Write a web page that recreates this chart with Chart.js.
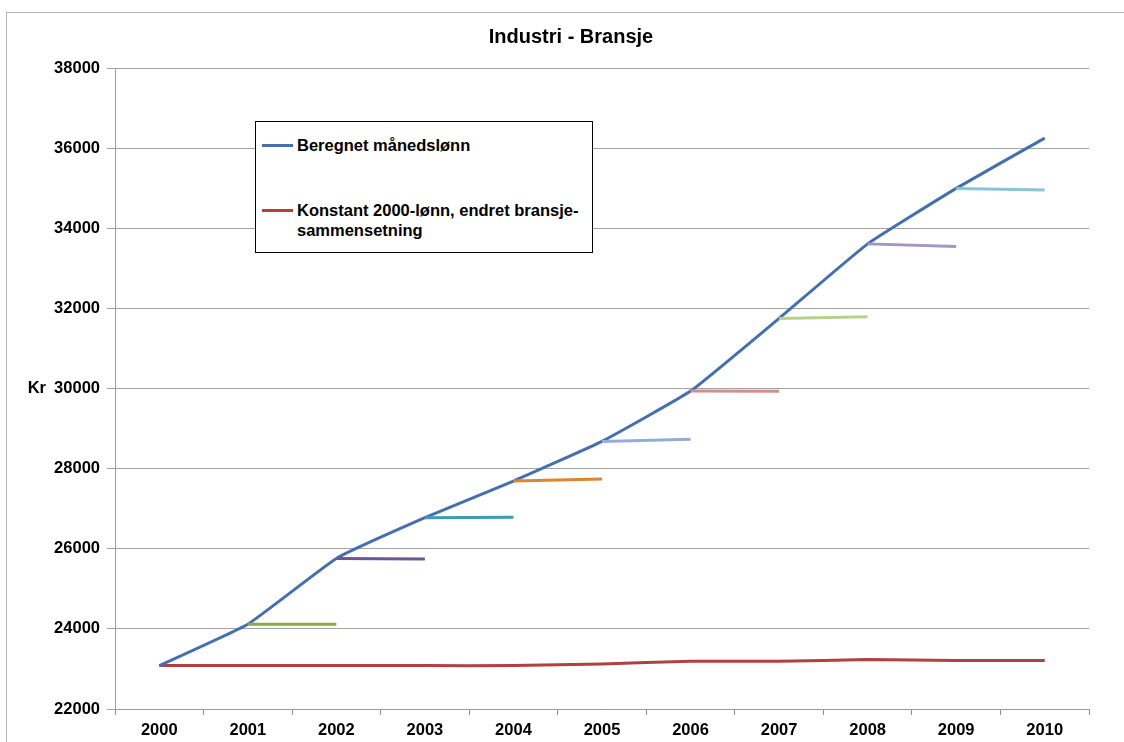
<!DOCTYPE html>
<html>
<head>
<meta charset="utf-8">
<script src="https://cdn.jsdelivr.net/npm/chart.js@4.4.1/dist/chart.umd.min.js"></script>
<style>
  html, body { margin: 0; padding: 0; background: #fff; overflow: hidden; }
  #frame { position: absolute; left: 6px; top: 12px; width: 1400px; height: 900px;
           border-left: 1px solid #b4b4b4; border-top: 1px solid #b4b4b4; }
  #wrap { position: absolute; left: 0; top: 0; }
  #legend { position: absolute; left: 255px; top: 121px; width: 336px; height: 130px;
            border: 1px solid #000; background: #fff;
            font: bold 16.5px "Liberation Sans", Arial, sans-serif; color: #000; }
  .item { position: absolute; left: 0; }
  .swatch { position: absolute; left: 6px; width: 31px; height: 3px; }
  .txt { position: absolute; left: 41px; white-space: nowrap; line-height: 20px; }
</style>
</head>
<body>
<div id="frame"></div>
<div id="wrap"><canvas id="chart" width="1140" height="742"></canvas></div>
<div id="legend"></div>
<script>
// Industri - Bransje
var years = ["2000", "2001", "2002", "2003", "2004", "2005", "2006", "2007", "2008", "2009", "2010"];
var manedslonn = [23083, 24117, 25758, 26775, 27690, 28680, 29935, 31750, 33610, 34995, 36250];
var konstant2000 = [23083, 23083, 23083, 23083, 23083, 23125, 23192, 23192, 23233, 23210, 23210];

// korte linjer: ett år fram med konstant lønnsstruktur
var kjedeStart = [24117, 25758, 26775, 27690, 28680, 29935, 31750, 33610, 34995];
var kjedeSlutt = [24117, 25742, 26788, 27740, 28735, 29930, 31790, 33545, 34955];
var kjedeFarger = ['#8aa84a', '#6e5596', '#3f9ab3', '#e0842f', '#94acd8', '#d78c8a', '#b7d18d', '#a695bf', '#8cc3d8'];

var yTicks = [22000, 24000, 26000, 28000, 30000, 32000, 34000, 36000, 38000];

var fontFam = '"Liberation Sans", Arial, sans-serif';

var datasets = [
    { label: 'Beregnet månedslønn', data: manedslonn, borderColor: '#4470ad', order: 5, tension: 0.12 },
    { label: ['Konstant 2000-lønn, endret bransje-', 'sammensetning'], data: konstant2000, borderColor: '#b0413e', order: 6, tension: 0.12 }
];
for (var k = 0; k < kjedeStart.length; k++) {
    var d = years.map(function () { return null; });
    d[k + 1] = kjedeStart[k];
    d[k + 2] = kjedeSlutt[k];
    datasets.push({ label: 'kjede ' + years[k + 1], data: d, borderColor: kjedeFarger[k], order: 1, tension: 0 });
}
datasets.forEach(function (ds) {
    ds.borderWidth = 3;
    ds.pointRadius = 0;
    ds.fill = false;
    ds.spanGaps = false;
});

// tittel og "Kr" tegnes selv, tittelen er sentrert på hele rammen
var tekster = {
    id: 'tekster',
    afterDraw: function (chart) {
        var ctx = chart.ctx;
        var y = chart.scales.y.getPixelForValue(30000);
        ctx.save();
        ctx.fillStyle = '#000';
        ctx.textBaseline = 'middle';
        ctx.font = 'bold 20px ' + fontFam;
        ctx.textAlign = 'center';
        ctx.fillText('Industri - Bransje', 571, 37);
        ctx.font = 'bold 16.5px ' + fontFam;
        ctx.textAlign = 'right';
        ctx.fillText('Kr', 46, y);
        ctx.restore();
    }
};

var ctx = document.getElementById('chart').getContext('2d');
var chart = new Chart(ctx, {
    type: 'line',
    data: { labels: years, datasets: datasets },
    plugins: [tekster],
    options: {
        responsive: false,
        animation: false,
        devicePixelRatio: 1,
        layout: { padding: { left: 0, right: 51, top: 68, bottom: 0 } },
        plugins: {
            legend: { display: false },
            tooltip: { enabled: false },
            title: { display: false }
        },
        scales: {
            x: {
                type: 'category',
                offset: true,
                grid: { offset: true, drawOnChartArea: false, drawTicks: true, tickLength: 6, color: '#8c8c8c' },
                border: { color: '#9a9a9a' },
                ticks: { color: '#000', padding: 6, maxRotation: 0, font: { family: fontFam, size: 16.5, weight: 'bold' } },
                afterFit: function (s) { s.height = 33; }
            },
            y: {
                min: 22000,
                max: 38000,
                afterBuildTicks: function (s) { s.ticks = yTicks.map(function (v) { return { value: v }; }); },
                grid: { color: '#a3a3a3', tickLength: 8 },
                border: { color: '#9a9a9a' },
                ticks: {
                    color: '#000', padding: 7, font: { family: fontFam, size: 16.5, weight: 'bold' },
                    callback: function (v) { return String(v); }
                },
                afterFit: function (s) { s.width = 115; }
            }
        }
    }
});

// forklaring inne i plottet
var legend = document.getElementById('legend');
var rowTop = [13, 78];
chart.data.datasets.slice(0, 2).forEach(function (ds, i) {
    var item = document.createElement('div');
    item.className = 'item';
    item.style.top = rowTop[i] + 'px';
    var sw = document.createElement('div');
    sw.className = 'swatch';
    sw.style.top = '9px';
    sw.style.background = ds.borderColor;
    var tx = document.createElement('div');
    tx.className = 'txt';
    tx.innerHTML = [].concat(ds.label).join('<br>');
    item.appendChild(sw);
    item.appendChild(tx);
    legend.appendChild(item);
});
</script>
</body>
</html>
